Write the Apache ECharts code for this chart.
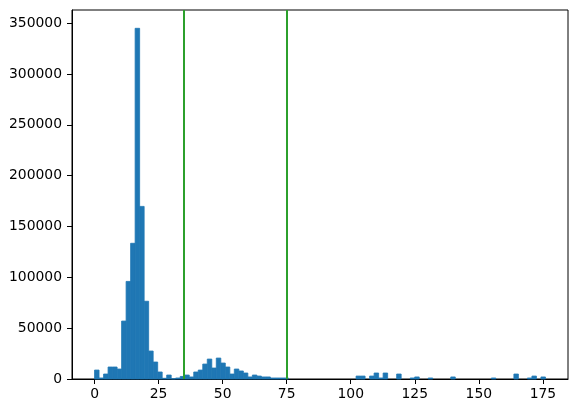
<!DOCTYPE html>
<html>
<head>
<meta charset="utf-8">
<script src="https://cdn.jsdelivr.net/npm/echarts@6/dist/echarts.min.js"></script>
<style>html,body{margin:0;padding:0;background:#fff}#c{width:578px;height:413px}</style>
</head>
<body>
<div id="c"></div>
<script>
// Histogram: 100 bins from 0 to 176
const binStart = 0;
const binWidth = 1.76;
const counts = [
  8800, 1000, 4900, 11800, 11800, 9800, 57000, 96000, 133500, 345000,
  169800, 76500, 27500, 16700, 6900, 700, 3900, 200, 1000, 2500,
  3900, 2000, 6900, 8800, 14700, 19600, 10800, 20600, 15700, 11800,
  4900, 9800, 7900, 5900, 2000, 3900, 2900, 2000, 2000, 1000,
  1000, 1000, 1000, 0, 0, 0, 0, 0, 0, 0,
  0, 0, 0, 0, 0, 0, 0, 0, 2900, 2900,
  0, 2900, 5900, 1000, 5900, 0, 0, 4900, 0, 0,
  1000, 2000, 0, 0, 1000, 0, 0, 0, 0, 2000,
  0, 0, 0, 0, 0, 0, 0, 0, 1000, 0,
  0, 0, 0, 4900, 0, 0, 1000, 2900, 0, 2000
];
const vLines = [35, 75];
const xTicks = [0, 25, 50, 75, 100, 125, 150, 175];
const yTicks = [0, 50000, 100000, 150000, 200000, 250000, 300000, 350000];

const binData = counts.map((c, i) => [binStart + i * binWidth, binStart + (i + 1) * binWidth, c]);

const chart = echarts.init(document.getElementById('c'), null, {renderer: 'canvas'});
const font = 'DejaVu Sans';
const plain = v => String(v);
chart.setOption({
  animation: false,
  grid: {left: 72, right: 10, top: 10, bottom: 34, show: true, borderColor: '#000', borderWidth: 1, backgroundColor: 'transparent'},
  xAxis: {
    type: 'value', min: -8.8, max: 184.8,
    axisLine: {show: true, onZero: false, lineStyle: {color: '#000', width: 1}},
    axisTick: {show: true, inside: false, length: 5, lineStyle: {color: '#000'}, customValues: xTicks},
    axisLabel: {color: '#000', fontFamily: font, fontSize: 13.9, margin: 8, customValues: xTicks, formatter: plain},
    splitLine: {show: false}
  },
  yAxis: {
    type: 'value', min: 0, max: 363000,
    axisLine: {show: true, onZero: false, lineStyle: {color: '#000', width: 1}},
    axisTick: {show: true, inside: false, length: 5, lineStyle: {color: '#000'}, customValues: yTicks},
    axisLabel: {color: '#000', fontFamily: font, fontSize: 13.9, margin: 10, customValues: yTicks, formatter: plain},
    splitLine: {show: false}
  },
  series: [{
    type: 'custom',
    data: binData,
    encode: {x: [0, 1], y: 2},
    renderItem: function (params, api) {
      if (api.value(2) <= 0) return null;
      const p0 = api.coord([api.value(0), 0]);
      const p1 = api.coord([api.value(1), api.value(2)]);
      return {
        type: 'rect',
        shape: {x: p0[0], y: p1[1], width: p1[0] - p0[0], height: p0[1] - p1[1]},
        style: {fill: '#1f77b4', stroke: '#1f77b4', lineWidth: 0.8}
      };
    },
    markLine: {
      silent: true,
      symbol: 'none',
      label: {show: false},
      lineStyle: {color: '#2ca02c', width: 2, type: 'solid'},
      data: vLines.map(v => ({xAxis: v}))
    }
  }]
});
</script>
</body>
</html>
